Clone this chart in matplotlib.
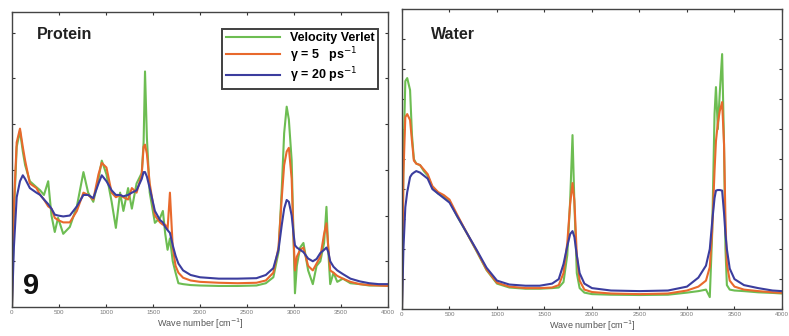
import numpy as np
import matplotlib
matplotlib.use("Agg")
import matplotlib.pyplot as plt

plt.rcParams["font.family"] = ["Liberation Sans", "DejaVu Sans"]

# ---- Protein spectrum (wave number in cm^-1) ----
prot_x = [0, 20, 50, 85, 115, 140, 190, 260, 300, 340, 385, 420, 455, 490, 545,
          615, 690, 760, 810, 865, 920, 955, 1005, 1060, 1105, 1150, 1185, 1235,
          1275, 1325, 1380, 1400, 1415, 1435, 1465, 1520, 1575, 1605, 1630, 1655,
          1680, 1710, 1740, 1770, 1820, 1900, 2000, 2200, 2400, 2600, 2700, 2780,
          2835, 2870, 2895, 2922, 2945, 2975, 2995, 3010, 3030, 3065, 3100, 3150,
          3200, 3240, 3280, 3320, 3345, 3365, 3385, 3420, 3460, 3520, 3600, 3700,
          3800, 3900, 4000]
prot_vv = [0.0, 2.0, 3.5, 3.85, 3.4, 3.1, 2.75, 2.62, 2.55, 2.45, 2.75, 2.0, 1.64,
           1.95, 1.6, 1.75, 2.2, 2.95, 2.5, 2.3, 2.8, 3.2, 2.9, 2.3, 1.73, 2.5,
           2.1, 2.6, 2.15, 2.7, 2.93, 3.6, 5.15, 3.7, 2.5, 1.84, 1.95, 2.1, 1.6,
           1.25, 1.5, 1.0, 0.75, 0.52, 0.5, 0.48, 0.47, 0.46, 0.46, 0.47, 0.52,
           0.65, 1.2, 2.6, 3.8, 4.38, 4.1, 3.2, 1.5, 0.3, 0.9, 1.3, 1.4, 0.8, 0.5,
           0.9, 1.0, 1.4, 2.19, 1.2, 0.5, 0.75, 0.55, 0.62, 0.52, 0.5, 0.47, 0.47,
           0.46]
prot_g5 = [0.0, 2.2, 3.6, 3.9, 3.5, 3.2, 2.7, 2.6, 2.45, 2.35, 2.2, 2.15, 1.95,
           1.9, 1.85, 1.85, 2.1, 2.5, 2.45, 2.35, 2.9, 3.15, 3.05, 2.5, 2.4, 2.45,
           2.4, 2.35, 2.6, 2.5, 2.9, 3.5, 3.55, 3.35, 2.7, 2.0, 1.85, 1.8, 1.8,
           1.7, 2.5, 1.3, 0.9, 0.75, 0.64, 0.58, 0.55, 0.53, 0.52, 0.53, 0.58,
           0.75, 1.3, 2.4, 3.1, 3.4, 3.48, 2.8, 1.5, 0.8, 1.1, 1.25, 1.3, 0.9, 0.8,
           0.95, 1.1, 1.6, 1.83, 1.3, 0.8, 0.75, 0.68, 0.62, 0.55, 0.5, 0.48, 0.47,
           0.46]
prot_g20 = [0.0, 1.3, 2.4, 2.75, 2.88, 2.8, 2.6, 2.5, 2.45, 2.35, 2.25, 2.15, 2.02,
            2.0, 1.98, 2.0, 2.2, 2.45, 2.45, 2.38, 2.7, 2.88, 2.75, 2.55, 2.45,
            2.45, 2.42, 2.45, 2.5, 2.55, 2.8, 2.95, 2.95, 2.85, 2.6, 2.1, 1.9,
            1.85, 1.75, 1.68, 1.62, 1.35, 1.12, 0.95, 0.8, 0.7, 0.65, 0.62, 0.62,
            0.63, 0.7, 0.85, 1.25, 1.8, 2.15, 2.34, 2.3, 2.0, 1.6, 1.35, 1.3, 1.25,
            1.2, 1.06, 1.0, 1.05, 1.18, 1.25, 1.3, 1.2, 1.0, 0.88, 0.8, 0.72, 0.62,
            0.56, 0.52, 0.5, 0.5]

# ---- Water spectrum ----
wat_x = [0, 15, 35, 55, 85, 105, 125, 150, 190, 230, 270, 320, 380, 440, 500, 580,
         680, 790, 890, 1000, 1130, 1300, 1450, 1580, 1650, 1700, 1740, 1770,
         1795, 1815, 1840, 1870, 1920, 2000, 2200, 2500, 2800, 3000, 3120, 3200,
         3240, 3265, 3290, 3305, 3325, 3345, 3370, 3390, 3405, 3420, 3450, 3500,
         3600, 3750, 3900, 4000]
wat_vv = [0.0, 5.0, 7.6, 7.7, 7.3, 5.8, 5.0, 4.85, 4.8, 4.6, 4.45, 4.05, 3.85,
          3.75, 3.6, 3.1, 2.55, 1.9, 1.3, 0.85, 0.72, 0.68, 0.68, 0.7, 0.72, 0.9,
          1.8, 3.6, 5.8, 3.5, 1.2, 0.7, 0.55, 0.5, 0.48, 0.47, 0.48, 0.55, 0.6,
          0.65, 0.4, 2.5, 6.5, 7.4, 6.0, 7.2, 8.5, 5.5, 2.0, 0.8, 0.65, 0.62, 0.6,
          0.56, 0.54, 0.52]
wat_g5 = [0.0, 4.5, 6.4, 6.5, 6.3, 5.6, 4.95, 4.85, 4.8, 4.65, 4.5, 4.1, 3.9,
          3.8, 3.65, 3.15, 2.55, 1.92, 1.32, 0.88, 0.75, 0.7, 0.7, 0.72, 0.8, 1.2,
          2.2, 3.5, 4.2, 3.6, 1.8, 0.95, 0.65, 0.57, 0.52, 0.5, 0.52, 0.62, 0.75,
          0.95, 1.4, 2.6, 4.6, 5.6, 6.2, 6.6, 6.9, 5.5, 3.0, 1.5, 0.95, 0.75, 0.65,
          0.6, 0.56, 0.54]
wat_g20 = [0.0, 2.0, 3.4, 3.9, 4.4, 4.5, 4.55, 4.6, 4.55, 4.45, 4.35, 4.0, 3.85,
           3.7, 3.55, 3.1, 2.55, 1.95, 1.38, 0.95, 0.82, 0.78, 0.78, 0.85, 1.0,
           1.5, 2.1, 2.5, 2.6, 2.4, 1.8, 1.2, 0.85, 0.7, 0.62, 0.6, 0.62, 0.75,
           1.05, 1.45, 2.0, 2.9, 3.7, 3.95, 3.97, 3.97, 3.95, 3.2, 2.5, 2.0, 1.35,
           1.0, 0.8, 0.7, 0.62, 0.6]

labels = ["Velocity Verlet", "\u03b3 = 5   ps$^{-1}$", "\u03b3 = 20 ps$^{-1}$"]
colors = ["#6dbd52", "#e8692c", "#3b3d9e"]
xticks = [0, 500, 1000, 1500, 2000, 2500, 3000, 3500, 4000]


def style_axes(ax, ymax, yticks):
    ax.set_xlim(0, 4000)
    ax.set_ylim(0, ymax)
    ax.set_xticks(xticks)
    ax.set_xticklabels([str(t) for t in xticks], fontsize=4.5, color="#777777")
    ax.set_yticks(yticks)
    ax.set_yticklabels([])
    ax.tick_params(direction="in", top=True, right=True, length=2.5,
                   width=0.8, pad=2, color="#333333")
    for s in ax.spines.values():
        s.set_linewidth(1.0)
        s.set_color("#444444")
    ax.set_xlabel("Wave number [cm$^{-1}$]", fontsize=6.5, color="#555555",
                  labelpad=1)


fig = plt.figure(figsize=(7.89, 3.36), dpi=100)
ax1 = fig.add_axes([0.0152, 0.0863, 0.4766, 0.878])
ax2 = fig.add_axes([0.5095, 0.080, 0.4816, 0.893])

for ys, c, lab in zip([prot_vv, prot_g5, prot_g20], colors, labels):
    ax1.plot(prot_x, ys, color=c, lw=1.5, label=lab)
for ys, c in zip([wat_vv, wat_g5, wat_g20], colors):
    ax2.plot(wat_x, ys, color=c, lw=1.5)

style_axes(ax1, 6.45, [1, 2, 3, 4, 5, 6])
style_axes(ax2, 10.0, [1, 2, 3, 4, 5, 6, 7, 8, 9])

ax1.text(0.065, 0.925, "Protein", transform=ax1.transAxes, fontsize=11.5,
         fontweight="bold", color="#222222", va="center")
ax2.text(0.075, 0.915, "Water", transform=ax2.transAxes, fontsize=11.5,
         fontweight="bold", color="#222222", va="center")
ax1.text(0.03, 0.07, "9", transform=ax1.transAxes, fontsize=21,
         fontweight="bold", color="#111111", va="center")

leg = ax1.legend(loc="upper right", bbox_to_anchor=(0.99, 0.965),
                 frameon=True, fancybox=False, handlelength=4.3,
                 handletextpad=0.8, labelspacing=0.05, borderpad=0.3,
                 prop={"weight": "bold", "size": 9})
leg.get_frame().set_edgecolor("#111111")
leg.get_frame().set_linewidth(1.4)

fig.savefig("out.png", dpi=100)
